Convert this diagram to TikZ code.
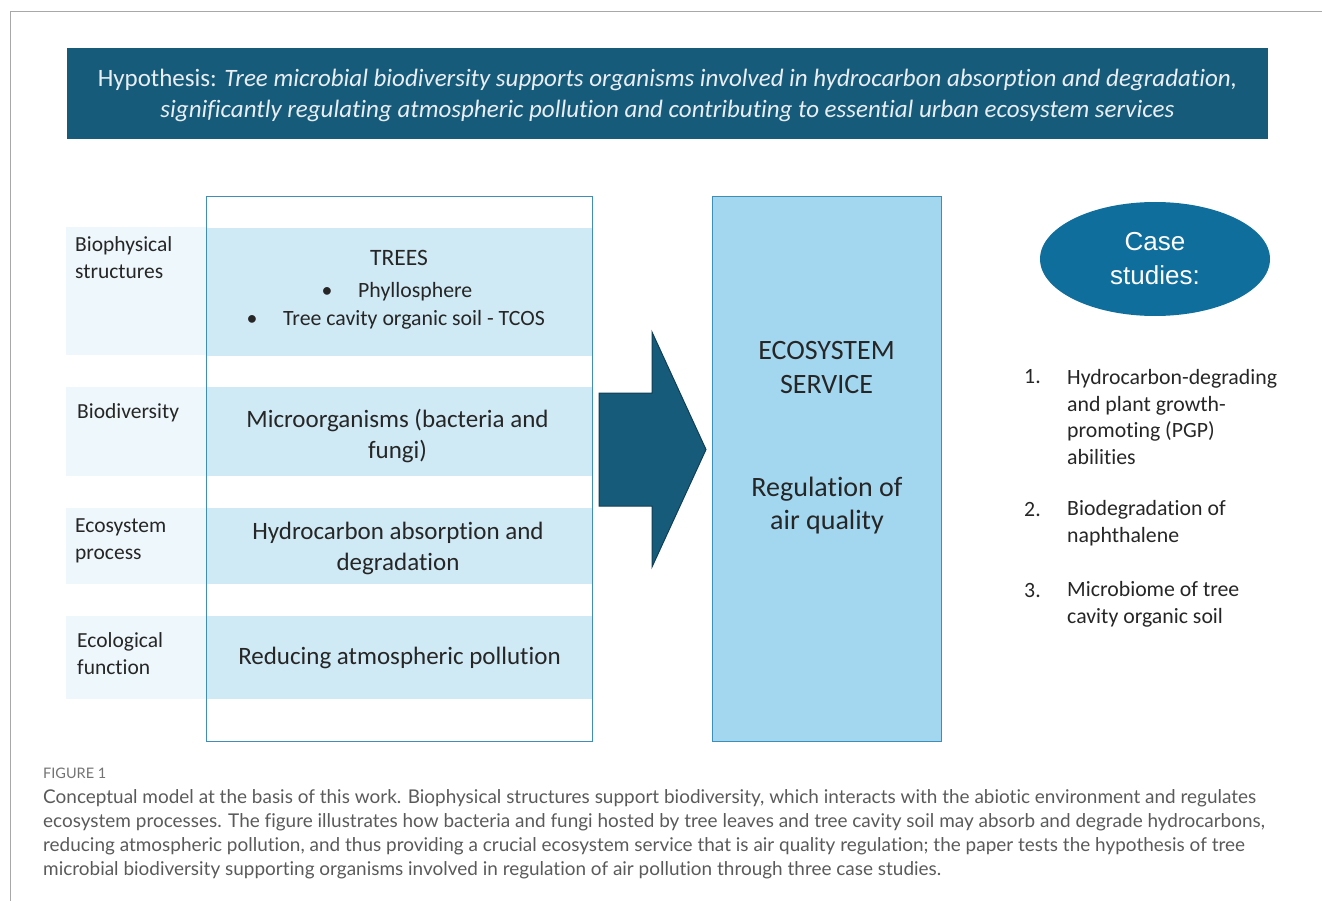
\documentclass[tikz,border=0pt]{standalone}
\usepackage{fontspec}
\setmainfont{Carlito}[Ligatures=NoCommon]
\newfontfamily\arialf{Liberation Sans}
\newfontfamily\capfont{Lato}[Ligatures=NoCommon]
\usetikzlibrary{shapes.geometric}

\definecolor{headblue}{HTML}{175B7B}
\definecolor{arrowline}{HTML}{0F3F55}
\definecolor{boxline}{HTML}{3E8EB8}
\definecolor{bandblue}{HTML}{CFE9F5}
\definecolor{labelbg}{HTML}{EEF7FB}
\definecolor{serviceblue}{HTML}{A3D6EF}
\definecolor{caseblue}{HTML}{0F6E9C}
\definecolor{inktext}{HTML}{262626}
\definecolor{headtext}{HTML}{E8EEF2}
\definecolor{captext}{HTML}{5A5A5A}
\definecolor{framegray}{HTML}{A8A8A8}

\tikzset{
  panel/.style={rectangle, inner sep=0pt, anchor=north west},
  lbl/.style={align=left, anchor=west, text=inktext, inner sep=0pt,
    font=\fontsize{21.5}{27}\selectfont},
  bandtext/.style={align=center, text=inktext, inner sep=0pt,
    font=\fontsize{25}{31}\selectfont},
  bullettext/.style={text=inktext, inner sep=0pt, font=\fontsize{21.8}{27}\selectfont},
  listnum/.style={anchor=base west, text=inktext, inner sep=0pt,
    font=\fontsize{21.8}{26.7}\selectfont},
  listtext/.style={align=left, anchor=west, text=inktext, inner sep=0pt,
    font=\fontsize{21.8}{26.7}\selectfont},
  capline/.style={anchor=base west, text=captext, inner sep=0pt,
    font=\capfont\fontsize{18.95}{24}\selectfont},
}

\begin{document}
\begin{tikzpicture}[x=1pt,y=-1pt]
\useasboundingbox (0,0) rectangle (1322,901);

% page frame
\draw[framegray, line width=1pt] (10.5,901) -- (10.5,11.5) -- (1322,11.5);

% hypothesis banner
\node[panel, fill=headblue, minimum width=1201pt, minimum height=91pt] (hyp) at (67,48) {};
\node[align=center, text=headtext, inner sep=0pt, font=\fontsize{25}{31}\selectfont]
  (hyptext) at (667.5,95) {Hypothesis: \textit{Tree microbial biodiversity supports organisms involved in hydrocarbon absorption and degradation,}\\
  \textit{significantly regulating atmospheric pollution and contributing to essential urban ecosystem services}};

% row label backgrounds
\node[panel, fill=labelbg, minimum width=140pt, minimum height=128pt] (lb1) at (66,227) {};
\node[panel, fill=labelbg, minimum width=140pt, minimum height=89pt] (lb2) at (66,387) {};
\node[panel, fill=labelbg, minimum width=140pt, minimum height=76pt] (lb3) at (66,508) {};
\node[panel, fill=labelbg, minimum width=140pt, minimum height=83pt] (lb4) at (66,616) {};

% content bands
\node[panel, fill=bandblue, minimum width=386pt, minimum height=128pt] (b1) at (206,228) {};
\node[panel, fill=bandblue, minimum width=386pt, minimum height=89pt] (b2) at (206,387) {};
\node[panel, fill=bandblue, minimum width=386pt, minimum height=76pt] (b3) at (206,508) {};
\node[panel, fill=bandblue, minimum width=386pt, minimum height=83pt] (b4) at (206,616) {};

% frame around the bands
\node[panel, draw=boxline, line width=1.2pt, minimum width=386pt, minimum height=545pt] (trees) at (206,196) {};

% row labels
\node[lbl] (l1) at (75,258) {Biophysical\\structures};
\node[lbl] (l2) at (77,413) {Biodiversity};
\node[lbl] (l3) at (75,541) {Ecosystem\\process};
\node[lbl] (l4) at (77,654) {Ecological\\function};

% band texts
\node[bullettext, font=\fontsize{23.5}{27}\selectfont] (t1) at (399,258) {TREES};
\node[bullettext, anchor=base] (t1a) at (327,298) {\textbullet};
\node[bullettext, anchor=base west] (t1b) at (358,298) {Phyllosphere};
\node[bullettext, anchor=base] (t1c) at (252,325) {\textbullet};
\node[bullettext, anchor=base west] (t1d) at (283,325) {Tree cavity organic soil - TCOS};
\node[bandtext] (t2) at (397.5,436) {Microorganisms (bacteria and\\fungi)};
\node[bandtext] (t3) at (398,548) {Hydrocarbon absorption and\\degradation};
\node[bandtext] (t4) at (399.5,658) {Reducing atmospheric pollution};

% block arrow
\draw[fill=headblue, draw=arrowline, line width=1pt, line join=miter]
  (599,393) -- (652,393) -- (652,332) -- (706,449.5) -- (652,567) -- (652,506) -- (599,506) -- cycle;

% ecosystem service box
\node[panel, fill=serviceblue, draw=boxline, line width=1.2pt, minimum width=229pt, minimum height=545pt] (service) at (712,196) {};
\node[align=center, text=inktext, inner sep=0pt, font=\fontsize{28}{34}\selectfont] (s1) at (826.5,368) {ECOSYSTEM\\SERVICE};
\node[align=center, text=inktext, inner sep=0pt, font=\fontsize{28}{33}\selectfont] (s2) at (827,506) {Regulation of\\air quality};

% case studies
\node[ellipse, fill=caseblue, minimum width=230pt, minimum height=114pt, inner sep=0pt] (case) at (1155,259) {};
\node[align=center, text=white, inner sep=0pt, font=\arialf\fontsize{26}{34}\selectfont] (casetext) at (1155,259) {Case\\studies:};

\node[listnum] (n1) at (1024,383) {1.};
\node[listtext] (c1) at (1067,417) {Hydrocarbon-degrading\\and plant growth-\\promoting (PGP)\\abilities};
\node[listnum] (n2) at (1024,516) {2.};
\node[listtext] (c2) at (1067,523) {Biodegradation of\\naphthalene};
\node[listnum] (n3) at (1024,597) {3.};
\node[listtext] (c3) at (1067,604) {Microbiome of tree\\cavity organic soil};

% caption
\node[anchor=base west, text=captext!85, inner sep=0pt, font=\capfont\fontsize{14.5}{18}\selectfont] (figlabel) at (43,778) {FIGURE 1};
\node[capline] (cap1) at (43,803) {Conceptual model at the basis of this work. Biophysical structures support biodiversity, which interacts with the abiotic environment and regulates};
\node[capline] (cap2) at (43,827) {ecosystem processes. The figure illustrates how bacteria and fungi hosted by tree leaves and tree cavity soil may absorb and degrade hydrocarbons,};
\node[capline] (cap3) at (43,851) {reducing atmospheric pollution, and thus providing a crucial ecosystem service that is air quality regulation; the paper tests the hypothesis of tree};
\node[capline] (cap4) at (43,875) {microbial biodiversity supporting organisms involved in regulation of air pollution through three case studies.};
\end{tikzpicture}
\end{document}
